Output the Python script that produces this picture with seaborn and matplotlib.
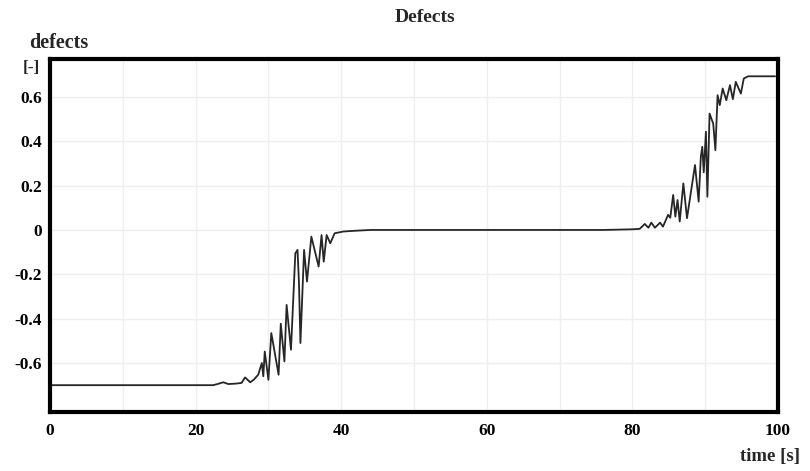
import matplotlib
matplotlib.use("Agg")
import matplotlib.pyplot as plt
import seaborn as sns
import pandas as pd

time_s = [0, 22.4, 23.0, 23.8, 24.5, 25.5, 26.3, 26.8, 27.5, 28.0, 28.6, 29.1, 29.3, 29.5,
          30.0, 30.4, 31.4, 31.7, 32.2, 32.5, 33.1, 33.7, 34.0, 34.2, 34.4, 34.9, 35.3,
          35.9, 36.9, 37.3, 37.6, 38.0, 38.5, 39.1, 40.3, 41.7, 44.0, 60.0, 76.0, 80.0,
          81.0, 81.7, 82.2, 82.6, 83.1, 83.8, 84.2, 84.9, 85.2, 85.6, 85.9, 86.2, 86.5,
          87.0, 87.5, 88.6, 89.1, 89.4, 89.6, 89.8, 90.1, 90.3, 90.6, 91.1, 91.4, 91.7,
          92.0, 92.4, 92.9, 93.4, 93.8, 94.2, 94.5, 94.9, 95.3, 95.9, 99.6]
defects = [-0.70, -0.70, -0.695, -0.687, -0.695, -0.693, -0.690, -0.665, -0.687, -0.675,
           -0.653, -0.60, -0.66, -0.548, -0.676, -0.465, -0.653, -0.423, -0.593, -0.338,
           -0.54, -0.105, -0.09, -0.24, -0.51, -0.09, -0.233, -0.03, -0.165, -0.023,
           -0.143, -0.023, -0.06, -0.015, -0.007, -0.004, 0.0, 0.0, 0.0, 0.003,
           0.005, 0.027, 0.01, 0.033, 0.01, 0.033, 0.015, 0.068, 0.055, 0.158, 0.06,
           0.135, 0.038, 0.21, 0.053, 0.293, 0.128, 0.33, 0.375, 0.26, 0.443, 0.15,
           0.525, 0.48, 0.36, 0.608, 0.563, 0.638, 0.585, 0.653, 0.59, 0.668, 0.645,
           0.615, 0.683, 0.693, 0.693]

x_ticks = [0, 20, 40, 60, 80, 100]
y_ticks = [-0.6, -0.4, -0.2, 0, 0.2, 0.4, 0.6]
y_tick_labels = ["-0.6", "-0.4", "-0.2", "0", "0.2", "0.4", "0.6"]

df = pd.DataFrame({"time": time_s, "defects": defects})

sns.set_theme(style="white")
plt.rcParams['font.family'] = ['Liberation Serif', 'DejaVu Serif']

W, H = 810, 471
fig = plt.figure(figsize=(W / 100, H / 100), dpi=100)
ax = fig.add_axes([50 / W, 1 - 412 / H, (778 - 50) / W, (412 - 59) / H])

sns.lineplot(data=df, x="time", y="defects", ax=ax, color="#262626", linewidth=1.3)

ax.set_xlim(0, 100)
ax.set_ylim(-0.821, 0.771)
ax.set_xticks(x_ticks)
ax.set_xticks(range(0, 101, 10), minor=True)
ax.set_yticks(y_ticks)
ax.set_yticklabels(y_tick_labels)
ax.grid(True, which="both", axis="x", color="#efefef", linewidth=1.0)
ax.grid(True, which="major", axis="y", color="#efefef", linewidth=1.0)
ax.tick_params(axis="both", which="both", length=0, labelsize=12.5, colors="black")
ax.tick_params(axis="x", pad=8)
ax.tick_params(axis="y", pad=6)
for lab in ax.get_xticklabels() + ax.get_yticklabels():
    lab.set_fontweight("bold")
ax.set_xlabel("")
ax.set_ylabel("")
for s in ax.spines.values():
    s.set_visible(True)
    s.set_color("black")
    s.set_linewidth(3)

fig.text(425 / W, 1 - 18 / H, "Defects", ha="center", va="center",
         fontsize=14, fontweight="bold")
fig.text(59 / W, 1 - 43 / H, "defects", ha="center", va="center",
         fontsize=14.5, fontweight="bold")
fig.text(40 / W, 1 - 68 / H, "[-]", ha="right", va="center",
         fontsize=12.5, fontweight="bold")
fig.text(800 / W, 1 - 456 / H, "time [s]", ha="right", va="center",
         fontsize=13.5, fontweight="bold")

fig.savefig("out.png", dpi=100, facecolor="white")
